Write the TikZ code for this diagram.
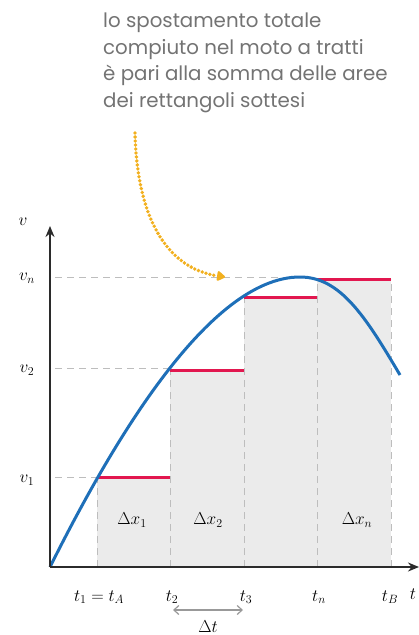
\documentclass[tikz,border=0pt]{standalone}
\usepackage{fontspec}
\newfontfamily\handfont{Poppins}
\usetikzlibrary{arrows.meta}
\definecolor{curveblue}{HTML}{1E6FB8}
\definecolor{stepred}{HTML}{E2174F}
\definecolor{fillgray}{HTML}{EBEBEB}
\definecolor{dashgray}{HTML}{BDBDBD}
\definecolor{notegray}{HTML}{737373}
\definecolor{noteorange}{HTML}{F2B01E}
\definecolor{axisdark}{HTML}{2B2B2B}
\tikzset{
  axisline/.style={line width=2.4pt, draw=axisdark, -{Stealth[length=11pt,width=9pt]}},
  helpdash/.style={draw=dashgray, line width=1pt, dash pattern=on 7pt off 5pt},
  stepline/.style={draw=stepred, line width=3pt},
  stepfill/.style={fill=fillgray, draw=none},
  mathlbl/.style={font=\fontsize{18.5}{20}\selectfont, inner sep=0pt},
  notelbl/.style={font=\handfont\fontsize{19.8}{22}\selectfont, text=notegray, inner sep=0pt, anchor=base west},
}
\begin{document}
\begin{tikzpicture}[x=1pt,y=-1pt]
\useasboundingbox (0,0) rectangle (419,635);
% key coordinates
\coordinate (O) at (50,567);
\coordinate (xend) at (419,567);
\coordinate (yend) at (50,226);
\coordinate (peak) at (300,277);
\coordinate (cend) at (400,375);
% rectangles
\fill[stepfill] (97,567) rectangle (170,477);
\fill[stepfill] (170,567) rectangle (244,370);
\fill[stepfill] (244,567) rectangle (317,297);
\fill[stepfill] (317,567) rectangle (391,279);
% vertical dashed lines
\draw[helpdash] (97,567) -- (97,477);
\draw[helpdash] (170,567) -- (170,370);
\draw[helpdash] (244,567) -- (244,297);
\draw[helpdash] (317,567) -- (317,279);
\draw[helpdash] (391,567) -- (391,279);
% horizontal dashed lines
\draw[helpdash] (55,477) -- (97,477);
\draw[helpdash] (55,368) -- (170,368);
\draw[helpdash] (55,277) -- (295,277);
% red steps
\draw[stepline] (97,477) -- (170,477);
\draw[stepline] (170,370) -- (244,370);
\draw[stepline] (244,297) -- (317,297);
\draw[stepline] (317,279) -- (391,279);
% curve
\draw[curveblue, line width=3pt] (O) .. controls (110,447) and (208,277) .. (peak)
  .. controls (340,277) and (365,315.5) .. (cend);
% axes
\draw[axisline] (O) -- (xend);
\draw[axisline] (O) -- (yend);
% axis labels
\node[mathlbl] (vlab) at (23,222) {$v$};
\node[mathlbl] (vn) at (27,278) {$v_n$};
\node[mathlbl] (v2) at (27,370) {$v_2$};
\node[mathlbl] (v1) at (27,480) {$v_1$};
\node[mathlbl] (t1) at (99,597) {$t_1 = t_A$};
\node[mathlbl] (t2) at (172,597) {$t_2$};
\node[mathlbl] (t3) at (246,597) {$t_3$};
\node[mathlbl] (tn) at (319,597) {$t_n$};
\node[mathlbl] (tB) at (390,597) {$t_B$};
\node[mathlbl] (tlab) at (413,594) {$t$};
% area labels
\node[mathlbl] (dx1) at (132,520) {$\Delta x_1$};
\node[mathlbl] (dx2) at (208,520) {$\Delta x_2$};
\node[mathlbl] (dxn) at (357,520) {$\Delta x_n$};
% delta t
\coordinate (dtl) at (173,610);
\coordinate (dtr) at (243,610);
\draw[draw=gray!80, line width=1.2pt, {Straight Barb[length=5pt,width=9pt]}-{Straight Barb[length=5pt,width=9pt]}] (dtl) -- (dtr);
\node[mathlbl] (dt) at (208,627) {$\Delta t$};
% note
\node[notelbl] (n1) at (103,27) {lo spostamento totale};
\node[notelbl] (n2) at (103,54) {compiuto nel moto a tratti};
\node[notelbl] (n3) at (103,80) {è pari alla somma delle aree};
\node[notelbl] (n4) at (103,107) {dei rettangoli sottesi};
\coordinate (arrowstart) at (135,133);
\coordinate (arrowend) at (225,277);
\draw[noteorange, line width=3.8pt, dash pattern=on 0pt off 4pt, line cap=round, -{Triangle[length=9pt,width=11pt,round]}] (arrowstart) .. controls (137,215) and (165,268) .. (arrowend);
\end{tikzpicture}
\end{document}
